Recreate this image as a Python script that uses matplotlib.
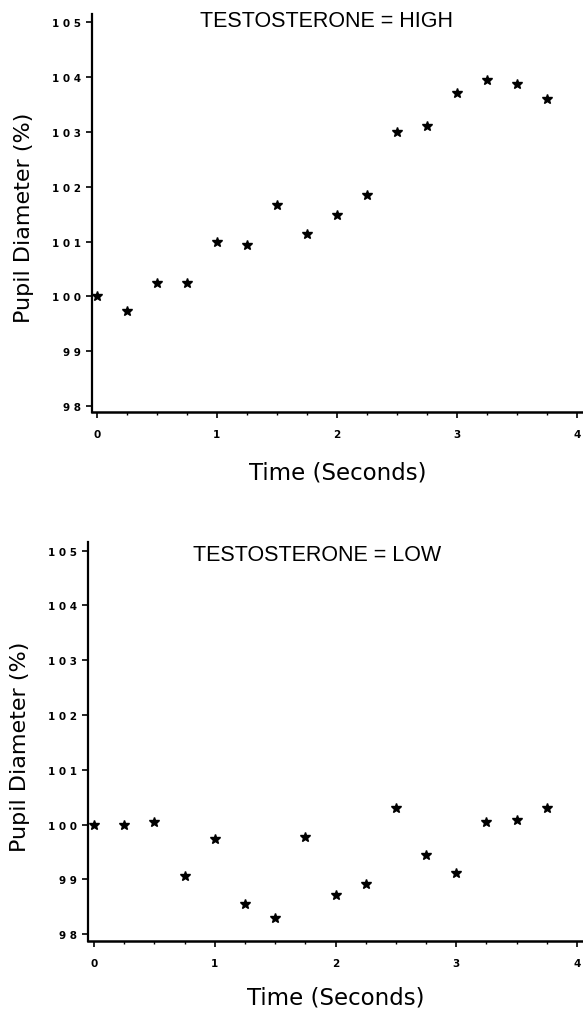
import matplotlib.pyplot as plt
import numpy as np

time_s = [0, 0.25, 0.5, 0.75, 1.0, 1.25, 1.5, 1.75, 2.0, 2.25, 2.5, 2.75, 3.0, 3.25, 3.5, 3.75]
pupil_high = [100.0, 99.73, 100.25, 100.24, 100.99, 100.94, 101.67, 101.13,
              101.48, 101.85, 103.0, 103.11, 103.72, 103.94, 103.88, 103.61]
pupil_low = [100.0, 100.0, 100.04, 99.06, 99.73, 98.55, 98.30, 99.78,
             98.71, 98.92, 100.31, 99.44, 99.12, 100.05, 100.09, 100.30]
panel_titles = ['TESTOSTERONE = HIGH', 'TESTOSTERONE = LOW']
y_ticks = [98, 99, 100, 101, 102, 103, 104, 105]
x_ticks = [0, 1, 2, 3, 4]

plt.rcParams['font.family'] = ['DejaVu Sans']

fig = plt.figure(figsize=(5.83, 10.12), dpi=100)
ax_top = fig.add_axes([0.158, 0.592, 0.842, 0.393])
ax_bot = fig.add_axes([0.151, 0.069, 0.849, 0.394])

panels = [(ax_top, pupil_high, panel_titles[0], (-0.04, 4.05), (97.89, 105.15), 0.477, 0.970, -0.123),
          (ax_bot, pupil_low, panel_titles[1], (-0.05, 4.05), (97.87, 105.15), 0.463, 0.957, -0.112)]

for ax, vals, title, xl, yl, tx, ty, xlab_y in panels:
    ax.plot(time_s, vals, linestyle='none', marker='*', markersize=7,
            color='black')
    ax.set_xlim(*xl)
    ax.set_ylim(*yl)
    ax.spines['top'].set_visible(False)
    ax.spines['right'].set_visible(False)
    ax.spines['left'].set_linewidth(1.6)
    ax.spines['bottom'].set_linewidth(1.8)
    ax.set_yticks(y_ticks)
    ax.set_yticklabels([' '.join(str(v)) for v in y_ticks],
                       fontsize=7.5, fontweight='bold')
    ax.set_xticks(x_ticks)
    ax.set_xticklabels([str(v) for v in x_ticks], fontsize=7.5,
                       fontweight='bold')
    ax.set_xticks(np.arange(0, 4.01, 0.25), minor=True)
    ax.tick_params(axis='y', which='major', direction='out', length=4,
                   width=1.2, pad=4)
    ax.tick_params(axis='x', which='major', direction='out', length=4,
                   width=1.2, pad=8)
    ax.tick_params(axis='x', which='minor', direction='out', length=2.5,
                   width=1.0)
    ax.tick_params(axis='y', which='minor', left=False)
    ax.set_ylabel('Pupil Diameter (%)', fontsize=16)
    ax.yaxis.set_label_coords(-0.118, 0.49)
    ax.set_xlabel('Time (Seconds)', fontsize=16.5)
    ax.xaxis.set_label_coords(0.5, xlab_y)
    ax.text(tx, ty, title, transform=ax.transAxes, ha='center',
            va='baseline', fontsize=15.5,
            family=['Liberation Sans', 'DejaVu Sans'])

fig.savefig('out.png', dpi=100)
